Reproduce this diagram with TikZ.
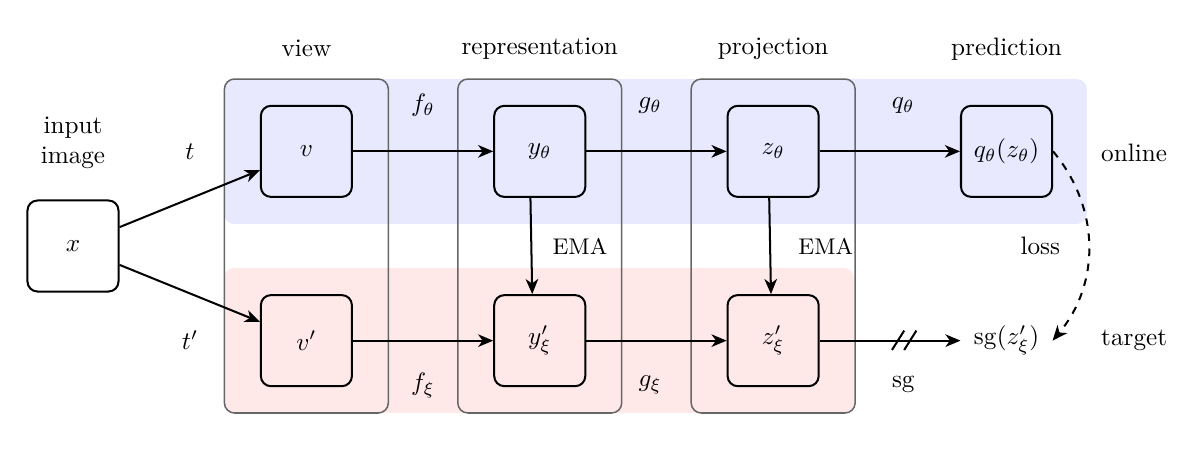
\documentclass[tikz,border=0pt]{standalone}
\usepackage{amsmath,amssymb}
\usepackage{tikz}
\usetikzlibrary{calc,arrows.meta}
\usepackage{xcolor}

\tikzset{
  blk/.style={draw, thick, rounded corners=4pt, minimum size=1.27cm, inner sep=0pt},
  frm/.style={draw=black!60, semithick, rounded corners=4pt},
  arr/.style={thick, -{Stealth[length=6pt,width=5pt,inset=1.8pt]}},
}

\begin{document}
\begin{tikzpicture}
\useasboundingbox (-1.018,-2.859) rectangle (15.565,3.431);
% bands
\fill [blue!9, rounded corners=4pt] (2.106,0.307) rectangle (14.14,2.329);
\fill [red!9, rounded corners=4pt] (2.106,-2.329) rectangle (10.89,-0.307);
\foreach \c in {3.255,6.51,9.765} \draw [frm] (\c-1.143,-2.329) rectangle (\c+1.143,2.329);

\node [blk] (x) at (0,0) {$x$};
\node [blk] (v) at (3.255,1.32) {$v$};
\node [blk] (v2) at (3.255,-1.32) {$v'$};
\node [blk] (y) at (6.51,1.32) {$y_\theta$};
\node [blk] (y2) at (6.51,-1.32) {$y'_\xi$};
\node [blk] (z) at (9.765,1.32) {$z_\theta$};
\node [blk] (z2) at (9.765,-1.32) {$z'_\xi$};
\node [blk] (q) at (13.02,1.32) {$q_\theta(z_\theta)$};
\node [minimum size=1.27cm, inner sep=0pt] (sg) at (13.02,-1.32) {$\mathrm{sg}(z'_\xi)$};

\node (lview) at (3.255,2.75) {view};
\node (lrep) at (6.51,2.75) {representation};
\node (lproj) at (9.765,2.75) {projection};
\node (lpred) at (13.02,2.75) {prediction};
\node [align=center] (limg) at (0,1.44) {input\\image};
\node (lt) at (1.632,1.31) {$t$};
\node (lt2) at (1.632,-1.31) {$t'$};
\node (lf) at (4.88,1.96) {$f_\theta$};
\node (lf2) at (4.88,-1.94) {$f_\xi$};
\node (lg) at (8.05,1.96) {$g_\theta$};
\node (lg2) at (8.05,-1.94) {$g_\xi$};
\node (lq) at (11.58,1.96) {$q_\theta$};
\node (lsg) at (11.58,-1.93) {sg};
\node [font=\small] (lema) at (7.07,0) {EMA};
\node [font=\small] (lema2) at (10.5,0) {EMA};
\node (lloss) at (13.49,0) {loss};
\node (lon) at (14.8,1.3) {online};
\node (ltar) at (14.8,-1.31) {target};

\draw [arr] (x) -- (v);
\draw [arr] (x) -- (v2);
\draw [arr] (v) -- (y);
\draw [arr] (y) -- (z);
\draw [arr] (z) -- (q);
\draw [arr] (v2) -- (y2);
\draw [arr] (y2) -- (z2);
\draw [arr] (z2) -- coordinate[pos=0.6] (cut) (sg);
\draw [thick] ($(cut)+(-0.17,-0.13)$) -- ++(0.17,0.27) ($(cut)+(0,-0.13)$) -- ++(0.17,0.27);
\draw [arr] ([xshift=-0.13cm]y.south) -- ([xshift=-0.105cm]y2.north);
\draw [arr] ([xshift=-0.055cm]z.south) -- ([xshift=-0.03cm]z2.north);
\draw [arr, dashed] (q.east) to [bend left=40] (sg.east);
\end{tikzpicture}
\end{document}
